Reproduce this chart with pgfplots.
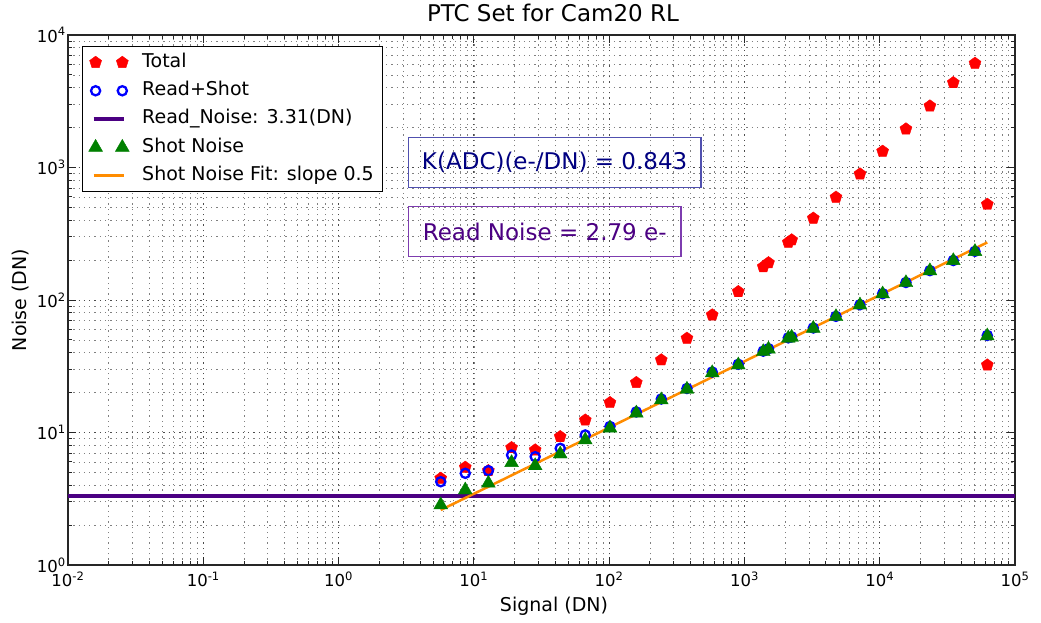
\documentclass[border=0pt]{standalone}
\usepackage{fontspec}
\setmainfont{DejaVu Sans}
\usepackage{pgfplots}
\usepackage{pgfplotstable}
\pgfplotsset{compat=1.18}
\definecolor{indig}{RGB}{75,0,130}
\definecolor{navyc}{RGB}{0,0,128}
\definecolor{navybox}{RGB}{80,80,175}
\definecolor{purbox}{RGB}{125,60,175}
\definecolor{dorange}{RGB}{255,140,0}
\definecolor{mgreen}{RGB}{0,128,0}

\pgfplotstableread{
x y
5.69 4.51
8.64 5.46
12.8 5.15
19.0 7.68
28.4 7.38
43.5 9.30
66.6 12.4
101.4 16.8
158.8 23.8
242.9 35.3
376 51.4
578 77.1
901 115.6
1378 178
1506 191
2110 272
2234 284
3228 414
4750 596
7148 893
10510 1325
15630 1953
23500 2911
34990 4365
50600 6110
62400 527
62400 32.3
}\totaltab

\pgfplotstableread{
x y
5.69 4.25
8.64 4.92
12.8 5.15
19.0 6.76
28.4 6.57
43.5 7.6
66.6 9.58
101.4 11.1
158.8 14.3
242.9 17.9
376 21.5
578 28.6
901 32.7
1378 41.1
1506 42.9
2110 51.8
2234 52.7
3228 61.5
4750 75.3
7148 92.1
10510 111.6
15630 135.6
23500 166.6
34990 198.6
50600 233
62400 54
}\rstab

\pgfplotstableread{
x y
5.69 2.84
8.64 3.68
12.8 4.14
19.0 5.92
28.4 5.61
43.5 6.88
66.6 8.78
101.4 10.8
158.8 14.0
242.9 17.6
376 21.2
578 28.2
901 32.3
1378 40.7
1506 42.5
2110 51.4
2234 52.3
3228 61.1
4750 74.8
7148 91.6
10510 111
15630 135
23500 166
34990 198
50600 232
62400 53.5
}\shottab

\pgfplotsset{
  markleg/.style={legend image code/.code={\path[draw=none,fill=none] (-7pt,-7pt) rectangle (33pt,7pt); \draw[##1] plot coordinates {(0pt,0pt) (26.7pt,0pt)};}},
  lineleg/.style={legend image code/.code={\path[draw=none,fill=none] (-7pt,-7pt) rectangle (33pt,7pt); \draw[##1] (-2pt,0pt) -- (28.3pt,0pt);}},
}

\begin{document}
\begin{tikzpicture}
\begin{axis}[
  at={(0pt,0pt)}, anchor=south west,
  scale only axis, width=947pt, height=530pt,
  xmode=log, ymode=log,
  xmin=1e-2, xmax=1e5, ymin=1, ymax=1e4,
  xtick={1e-2,1e-1,1,10,100,1000,10000,100000},
  xticklabels={10\textsuperscript{-2},10\textsuperscript{-1},10\textsuperscript{0},10\textsuperscript{1},10\textsuperscript{2},10\textsuperscript{3},10\textsuperscript{4},10\textsuperscript{5}},
  ytick={1,10,100,1000,10000},
  yticklabels={10\textsuperscript{0},10\textsuperscript{1},10\textsuperscript{2},10\textsuperscript{3},10\textsuperscript{4}},
  grid=both,
  major grid style={dash pattern=on 1.3pt off 4pt, black!70, line width=0.75pt},
  minor grid style={dash pattern=on 1.3pt off 4pt, black!50, line width=0.7pt},
  axis line style={black!85, line width=1.2pt},
  tick align=inside, tick pos=both,
  major tick length=8pt, minor tick length=4pt,
  every tick/.style={black!85, line width=0.9pt},
  tick label style={font=\fontsize{16.5}{20}\selectfont},
  xticklabel style={anchor=base, yshift=-22pt},
  yticklabel style={anchor=east, inner sep=0pt, xshift=-2pt},
  title={PTC Set for Cam20 RL},
  title style={font=\fontsize{23}{28}\selectfont, anchor=base, at={(axis description cs:0.5121,1.0132)}},
  xlabel={Signal (DN)}, ylabel={Noise (DN)},
  label style={font=\fontsize{19}{23}\selectfont},
  xlabel style={at={(axis description cs:0.5132,-0.0877)}, anchor=base},
  ylabel style={at={(axis description cs:-0.0433,0.5)}, anchor=base},
  legend cell align=left,
  legend style={at={(axis description cs:0.0148,0.979)}, anchor=north west,
    draw=black, line width=1.2pt, fill=white,
    font=\fontsize{19}{23}\selectfont,
    inner xsep=6pt, inner ysep=6.5pt, row sep=9.8pt, column sep=10pt,
    nodes={inner ysep=0pt, inner xsep=3pt, text height=14pt, text depth=4.5pt}},
]
\addplot[only marks, mark=pentagon*, mark size=6.3pt, color=red, mark options={draw=red, fill=red, line width=0.4pt}, markleg] table {\totaltab};
\addlegendentry{Total}
\addplot[only marks, mark=o, mark size=4.6pt, color=blue, mark options={draw=blue, line width=2.3pt}, markleg] table {\rstab};
\addlegendentry{Read+Shot}
\addplot[indig, line width=4pt, lineleg] coordinates {(0.01,3.31) (100000,3.31)};
\addlegendentry{Read\_Noise: 3.31(DN)}
\addplot[only marks, mark=triangle*, mark size=8pt, color=mgreen, mark options={draw=mgreen, fill=mgreen, line width=0.4pt}, markleg] table {\shottab};
\addlegendentry{Shot Noise}
\addplot[dorange, line width=2.5pt, lineleg] coordinates {(5.69,2.60) (62400,272)};
\addlegendentry{Shot Noise Fit: slope 0.5}
\node[draw=navybox, line width=1.3pt, text=navyc, font=\fontsize{23}{28}\selectfont, minimum width=292.7pt, minimum height=50pt, inner sep=0pt] at (rel axis cs:0.5139,0.7598) {K(ADC)(e-/DN) = 0.843};
\node[draw=purbox, line width=1.3pt, text=indig, font=\fontsize{23}{28}\selectfont, minimum width=272.7pt, minimum height=50pt, inner sep=0pt] at (rel axis cs:0.5034,0.6289) {Read Noise = 2.79 e-};
\end{axis}
\pgfresetboundingbox
\path (-68pt,-58pt) rectangle (973pt,565pt);
\end{tikzpicture}
\end{document}
